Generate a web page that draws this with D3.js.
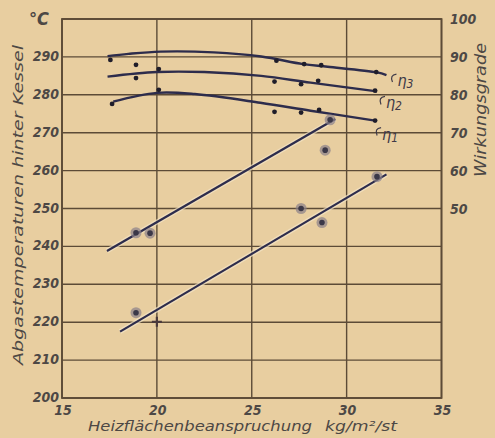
<!DOCTYPE html>
<html><head><meta charset="utf-8">
<script src="https://cdn.jsdelivr.net/npm/d3@7"></script>
<style>body{margin:0;background:#e8cea0;} svg{display:block}</style>
</head><body><svg id="c" width="495" height="438"></svg>
<script>
// ---- data ----
const xTicks = [15, 20, 25, 30, 35];
const tempTicks = [200, 210, 220, 230, 240, 250, 260, 270, 280, 290];
const gridTemps = [200, 210, 220, 230, 240, 250, 260, 270, 280, 290, 300];
const effTicks = [50, 60, 70, 80, 90, 100];

// efficiency curves (Wirkungsgrade, %)
const eta3CurveX = [17.4, 18.5, 20.2, 23.0, 25.5, 27.7, 29.0, 31.6, 32.1];
const eta3CurveY = [90.2, 90.8, 91.4, 91.2, 90.1, 88.1, 87.4, 85.9, 85.2];
const eta2CurveX = [17.4, 20.0, 22.5, 25.5, 28.1, 31.6];
const eta2CurveY = [84.8, 86.0, 86.0, 85.0, 83.2, 80.9];
const eta1CurveX = [17.7, 20.0, 22.0, 25.45, 28.1, 31.5];
const eta1CurveY = [78.2, 80.5, 80.2, 77.9, 75.8, 73.2];

// efficiency measurements
const eta3PtsX = [17.55, 18.9, 26.3, 27.76, 28.66, 31.56];
const eta3PtsY = [89.2, 87.9, 89.0, 88.1, 87.8, 86.0];
const eta2PtsX = [18.9, 20.1, 26.2, 27.6, 28.5, 31.5];
const eta2PtsY = [84.4, 86.8, 83.5, 82.8, 83.7, 81.1];
const eta1PtsX = [17.64, 20.1, 26.2, 27.6, 28.55, 31.5];
const eta1PtsY = [77.6, 81.3, 75.5, 75.3, 76.0, 73.2];

// exhaust temperature lines (°C)
const tempUpperX = [17.37, 29.4];
const tempUpperY = [238.8, 273.6];
const tempLowerX = [18.06, 32.1];
const tempLowerY = [217.5, 259.0];
// exhaust temperature measurements
const tempUpperPtsX = [18.9, 19.64, 28.87, 29.13];
const tempUpperPtsY = [243.6, 243.5, 265.4, 273.4];
const tempLowerPtsX = [18.9, 27.6, 28.7, 31.6];
const tempLowerPtsY = [222.5, 250.0, 246.3, 258.4];
const tempCrossX = [20.0];
const tempCrossY = [220.1];

const etaLabels = ["3", "2", "1"];

// ---- chart ----
const svg = d3.select("#c");
const x = d3.scaleLinear().domain([15, 35]).range([62, 441.5]);
const yT = d3.scaleLinear().domain([200, 300]).range([398, 19]);
const yE = d3.scaleLinear().domain([0, 100]).range([398, 19]);

const gridCol = "#5c4b37";
const txtCol = "#4d4845";
const lineCol = "#2d2c4c";
const font = "'DejaVu Sans Condensed','DejaVu Sans',sans-serif";

const g = svg.append("g");
// grid
g.selectAll("line.h").data(gridTemps).join("line")
  .attr("x1", x(15)).attr("x2", x(35))
  .attr("y1", d => yT(d)).attr("y2", d => yT(d))
  .attr("stroke", gridCol).attr("stroke-width", 1.4);
g.selectAll("line.v").data(xTicks).join("line")
  .attr("y1", yT(200)).attr("y2", yT(300))
  .attr("x1", d => x(d)).attr("x2", d => x(d))
  .attr("stroke", gridCol).attr("stroke-width", 1.4);
g.append("rect").attr("x", x(15)).attr("y", yT(300))
  .attr("width", x(35) - x(15)).attr("height", yT(200) - yT(300))
  .attr("fill", "none").attr("stroke", gridCol).attr("stroke-width", 1.8);

// tick labels
const tl = svg.append("g").attr("font-family", font).attr("font-style", "italic")
  .attr("font-weight", "bold").attr("fill", txtCol).attr("font-size", 14);
tl.selectAll("text.l").data(tempTicks).join("text")
  .attr("x", 59).attr("y", d => yT(d) + 4).attr("text-anchor", "end").text(d => d);
tl.selectAll("text.r").data(effTicks).join("text")
  .attr("x", 450).attr("y", d => yE(d) + 5).attr("text-anchor", "start").text(d => d);
tl.selectAll("text.b").data(xTicks).join("text")
  .attr("x", d => x(d) + 1).attr("y", 415).attr("text-anchor", "middle").text(d => d);

// titles
const tt = svg.append("g").attr("font-family", font).attr("font-style", "italic").attr("fill", txtCol);
tt.append("text").attr("x", 29).attr("y", 25).attr("font-size", 18).attr("font-weight", "bold").text("°C");
tt.append("text").attr("transform", "translate(23,205) rotate(-90)").attr("text-anchor", "middle")
  .attr("font-size", 14).attr("textLength", 320).attr("lengthAdjust", "spacingAndGlyphs")
  .text("Abgastemperaturen  hinter  Kessel");
tt.append("text").attr("transform", "translate(486,110) rotate(-90)").attr("text-anchor", "middle")
  .attr("font-size", 15).attr("textLength", 134).attr("lengthAdjust", "spacingAndGlyphs")
  .text("Wirkungsgrade");
tt.append("text").attr("x", 88).attr("y", 431).attr("font-size", 14)
  .attr("textLength", 224).attr("lengthAdjust", "spacingAndGlyphs").text("Heizflächenbeanspruchung");
tt.append("text").attr("x", 325).attr("y", 431).attr("font-size", 14)
  .attr("textLength", 72).attr("lengthAdjust", "spacingAndGlyphs").text("kg/m²/st");

// efficiency curves
const lineE = d3.line().x(d => x(d[0])).y(d => yE(d[1])).curve(d3.curveCatmullRom);
const curves = [
  d3.zip(eta3CurveX, eta3CurveY),
  d3.zip(eta2CurveX, eta2CurveY),
  d3.zip(eta1CurveX, eta1CurveY)
];
svg.append("g").selectAll("path").data(curves).join("path")
  .attr("d", lineE).attr("fill", "none").attr("stroke", lineCol).attr("stroke-width", 2.4);

// temperature lines
const lineT = d3.line().x(d => x(d[0])).y(d => yT(d[1]));
const tLines = [d3.zip(tempUpperX, tempUpperY), d3.zip(tempLowerX, tempLowerY)];
svg.append("g").selectAll("path.halo").data(tLines).join("path")
  .attr("d", lineT).attr("fill", "none").attr("stroke", "#f4e6c8").attr("stroke-width", 5).attr("opacity", 0.7);
svg.append("g").selectAll("path").data(tLines).join("path")
  .attr("d", lineT).attr("fill", "none").attr("stroke", lineCol).attr("stroke-width", 2.2);

// efficiency points
const ePts = [].concat(d3.zip(eta3PtsX, eta3PtsY), d3.zip(eta2PtsX, eta2PtsY), d3.zip(eta1PtsX, eta1PtsY));
svg.append("g").selectAll("circle").data(ePts).join("circle")
  .attr("cx", d => x(d[0])).attr("cy", d => yE(d[1])).attr("r", 2.4).attr("fill", "#1f1d2a");

// temperature points
const tPts = [].concat(d3.zip(tempUpperPtsX, tempUpperPtsY), d3.zip(tempLowerPtsX, tempLowerPtsY));
const tp = svg.append("g");
tp.selectAll("circle.o").data(tPts).join("circle")
  .attr("cx", d => x(d[0])).attr("cy", d => yT(d[1])).attr("r", 5.5)
  .attr("fill", "#8a8089").attr("opacity", 0.7);
tp.selectAll("circle.i").data(tPts).join("circle")
  .attr("cx", d => x(d[0])).attr("cy", d => yT(d[1])).attr("r", 2.8)
  .attr("fill", "#3b3848");
const crosses = d3.zip(tempCrossX, tempCrossY);
tp.selectAll("path.cross").data(crosses).join("path")
  .attr("d", d => { const cx = x(d[0]), cy = yT(d[1]); return `M${cx-5},${cy}H${cx+5}M${cx},${cy-5}V${cy+5}`; })
  .attr("stroke", "#4a3a3c").attr("stroke-width", 2.2);

// eta labels at curve ends
const ends = curves.map(c => c[c.length - 1]);
const offs = [[4, 4], [2, 10], [0, 12]];
const lab = svg.append("g").attr("font-family", font).attr("font-style", "italic").attr("fill", "#3f3a48");
ends.forEach((e, i) => {
  const px = x(e[0]) + offs[i][0], py = yE(e[1]) + offs[i][1];
  lab.append("path").attr("d", `M${px+6},${py-5} Q${px-1},${py-4} ${px+2},${py+3}`)
    .attr("fill", "none").attr("stroke", "#3f3a48").attr("stroke-width", 1.2);
  const t = lab.append("text").attr("x", px + 7).attr("y", py + 7).attr("font-size", 16).text("η");
  t.append("tspan").attr("font-size", 12).attr("dy", 2).text(etaLabels[i]);
});
</script></body></html>
